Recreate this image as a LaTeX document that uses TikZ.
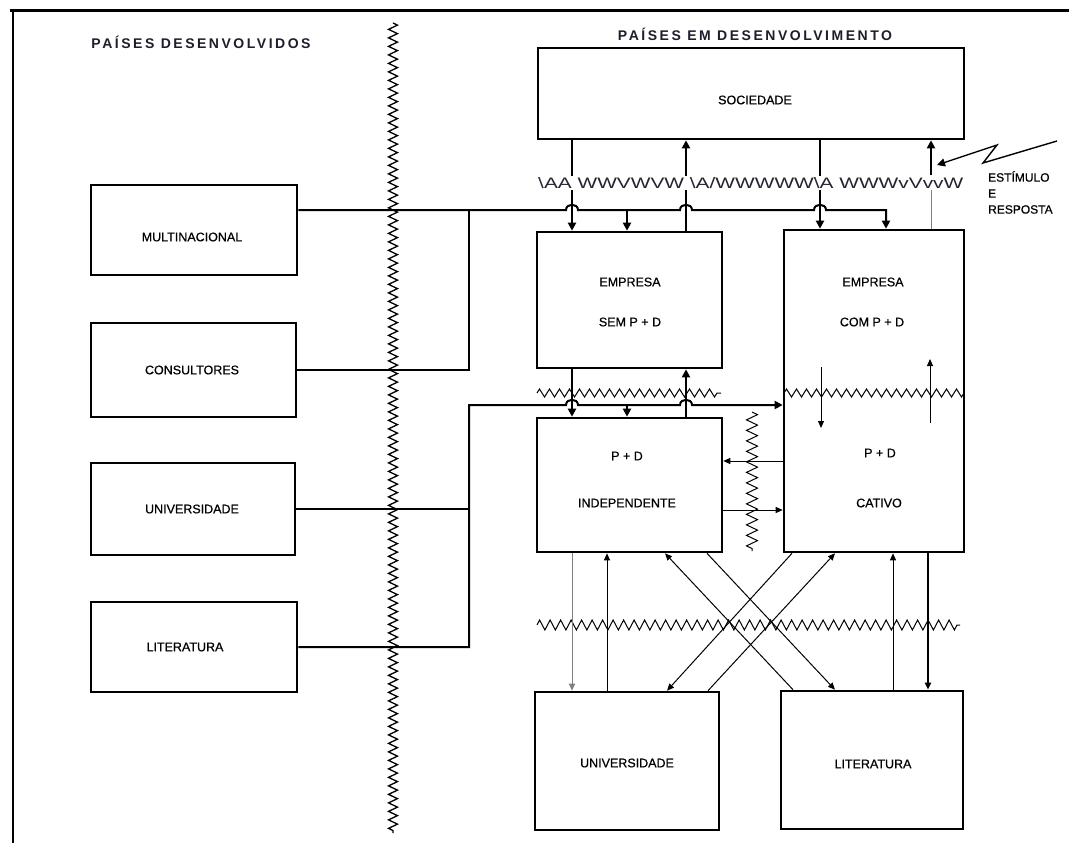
\documentclass[tikz,border=0pt]{standalone}
\usepackage{fontspec}
\setmainfont{Liberation Sans}
\newfontfamily\headfont[LetterSpace=18]{Liberation Sans Bold}
\newfontfamily\lblfont[FakeBold=0.6]{Liberation Sans}
\usetikzlibrary{decorations.pathmorphing,arrows.meta}
\begin{document}
\begin{tikzpicture}[x=1pt,y=-1pt,
  box/.style={draw,line width=2.6pt,inner sep=0pt},
  lbl/.style={inner sep=0pt,font=\lblfont\fontsize{12.5}{14}\selectfont},
  head/.style={inner sep=0pt,text={rgb,255:red,30;green,30;blue,45},font=\headfont\fontsize{14}{16}\selectfont},
  conn/.style={line width=2pt},
  thinconn/.style={line width=1pt},
  arr/.style={-{Triangle[width=8pt,length=8pt]}},
  sarr/.style={-{Triangle[width=6pt,length=7pt]}},
  zig/.style={decorate,decoration={zigzag,segment length=10pt,amplitude=4pt},line width=1pt},
  divider/.style={decorate,decoration={zigzag,segment length=8.5pt,amplitude=4.5pt},line width=1.3pt},
]
% page
\path[use as bounding box,fill=white] (0,0) rectangle (1069,843);
\draw[line width=3pt] (10,11) -- (1069,11);
\draw[line width=2pt] (12.5,10) -- (12.5,843);

% headings
\node[head] (hd1) at (201,42) {PAÍSES DESENVOLVIDOS};
\node[head] (hd2) at (755,34) {PAÍSES EM DESENVOLVIMENTO};

% boxes
\node[box,minimum width=426pt,minimum height=91pt] (soc) at (751,93.5) {};
\node[box,minimum width=206pt,minimum height=90pt] (mult) at (194,230) {};
\node[box,minimum width=205pt,minimum height=94pt] (cons) at (193.5,370) {};
\node[box,minimum width=204pt,minimum height=92pt] (univL) at (193,509) {};
\node[box,minimum width=206pt,minimum height=90pt] (litL) at (194,647) {};
\node[box,minimum width=185pt,minimum height=136pt] (emp) at (629.5,300) {};
\node[box,minimum width=185pt,minimum height=134pt] (pdi) at (629.5,485) {};
\node[box,minimum width=180pt,minimum height=322pt] (cat) at (874,391) {};
\node[box,minimum width=184pt,minimum height=138pt] (univB) at (627,761) {};
\node[box,minimum width=182pt,minimum height=138pt] (litB) at (872,760) {};

% labels
\node[lbl] (socT) at (755,100) {SOCIEDADE};
\node[lbl] (multT) at (192,237) {MULTINACIONAL};
\node[lbl] (consT) at (192,370) {CONSULTORES};
\node[lbl] (univLT) at (192,509) {UNIVERSIDADE};
\node[lbl] (litLT) at (185,647) {LITERATURA};
\node[lbl] (empT1) at (630,282) {EMPRESA};
\node[lbl] (empT2) at (630,322) {SEM P + D};
\node[lbl] (pdiT1) at (627,456) {P + D};
\node[lbl] (pdiT2) at (627,503) {INDEPENDENTE};
\node[lbl] (catT1) at (873,282) {EMPRESA};
\node[lbl] (catT2) at (872,322) {COM P + D};
\node[lbl] (catT3) at (880,453) {P + D};
\node[lbl] (catT4) at (879,503) {CATIVO};
\node[lbl] (univBT) at (627,763) {UNIVERSIDADE};
\node[lbl] (litBT) at (873,764) {LITERATURA};
\node[lbl,align=left,anchor=north west,font=\lblfont\fontsize{12}{16}\selectfont] (est) at (988,171) {ESTÍMULO\\E\\RESPOSTA};

% column and row references
\coordinate (xa) at (572,0);
\coordinate (xb) at (627,0);
\coordinate (xc) at (686,0);
\coordinate (xd) at (820,0);
\coordinate (xe) at (886,0);
\coordinate (xf) at (931,0);
\coordinate (xbus) at (469,0);
\coordinate (yb1) at (0,210);
\coordinate (yb2) at (0,405);
\coordinate (r1) at (0,461);
\coordinate (r2) at (0,510);
\coordinate (bx1) at (572,0);
\coordinate (bx2) at (607,0);
\coordinate (bx3) at (665,0);
\coordinate (bx4) at (707,0);
\coordinate (bx5) at (793,0);
\coordinate (bx6) at (835,0);
\coordinate (bx7) at (792,0);
\coordinate (bx8) at (667,0);
\coordinate (bx9) at (708,0);
\coordinate (bx10) at (893,0);
\coordinate (bx11) at (928,0);

% vertical links society <-> firms
\draw[conn,arr] (soc.south -| xa) -- (emp.north -| xa);
\draw[conn,arr] (emp.north -| xc) -- (soc.south -| xc);
\draw[conn,arr] (soc.south -| xd) -- (cat.north -| xd);

% boundary text line under the society box
\node[inner sep=0pt,inner ysep=1.5pt,fill=white,anchor=base west,text={rgb,255:red,35;green,35;blue,50}] (wt) at (538,188)
  {\resizebox{425pt}{11pt}{\textbackslash AA WWVWVW \textbackslash A/WWWWW\textbackslash A WWWvVvvW}};

\draw[thinconn,gray] (cat.north -| xf) -- (wt.south -| xf);
\draw[conn,arr] (wt.north -| xf) -- (soc.south -| xf);

% stimulus / response flash
\coordinate (l1) at (1057,141);
\coordinate (l2) at (983,163);
\coordinate (l3) at (997,145);
\coordinate (l4) at (937,165);
\draw[line width=1.4pt,arr] (l1) -- (l2) -- (l3) -- (l4);

% upper bus from the developed countries
\draw[conn,arr] (mult.east |- yb1) -- (566,210) .. controls (566,203) and (578,203) .. (578,210)
  -- (680,210) .. controls (680,203) and (692,203) .. (692,210)
  -- (814,210) .. controls (814,203) and (826,203) .. (826,210)
  -- (xe |- yb1) -- (cat.north -| xe);
\draw[conn,arr] (xb |- yb1) -- (emp.north -| xb);
\draw[conn] (cons.east) -- (xbus |- cons.east) -- (xbus |- yb1);

% lower bus
\draw[conn] (univL.east) -- (xbus |- univL.east);
\draw[conn,arr] (litL.east) -- (xbus |- litL.east) -- (xbus |- yb2)
  -- (566,405) .. controls (566,398) and (578,398) .. (578,405)
  -- (680,405) .. controls (680,398) and (692,398) .. (692,405)
  -- (cat.west |- yb2);

% firm without R&D <-> independent R&D
\draw[conn,arr] (emp.south -| xa) -- (pdi.north -| xa);
\draw[conn,arr] (xb |- yb2) -- (pdi.north -| xb);
\draw[conn,arr] (pdi.north -| xc) -- (emp.south -| xc);
\coordinate (z1a) at (537,393);
\coordinate (z1b) at (721,393);
\draw[zig] (z1a) -- (z1b);

% captive R&D
\coordinate (z2a) at (784,393);
\coordinate (z2b) at (964,393);
\draw[zig] (z2a) -- (z2b);
\coordinate (ca1) at (821,367);
\coordinate (ca2) at (821,428);
\coordinate (cb1) at (930,423);
\coordinate (cb2) at (930,359);
\draw[thinconn,sarr] (ca1) -- (ca2);
\draw[thinconn,sarr] (cb1) -- (cb2);

% independent <-> captive
\coordinate (z3a) at (752,412);
\coordinate (z3b) at (752,551);
\draw[zig,decoration={segment length=10.5pt,amplitude=5.5pt}] (z3a) -- (z3b);
\draw[thinconn,sarr] (cat.west |- r1) -- (pdi.east |- r1);
\draw[thinconn,sarr] (pdi.east |- r2) -- (cat.west |- r2);

% links to local university and literature
\coordinate (z4a) at (537,625);
\coordinate (z4b) at (960,625);
\draw[zig,decoration={segment length=10.5pt,amplitude=5pt}] (z4a) -- (z4b);
\draw[thinconn,gray,sarr] (pdi.south -| bx1) -- (univB.north -| bx1);
\draw[thinconn,sarr] (univB.north -| bx2) -- (pdi.south -| bx2);
\draw[thinconn,sarr] (litB.north -| bx5) -- (pdi.south -| bx3);
\draw[thinconn,sarr] (pdi.south -| bx4) -- (litB.north -| bx6);
\draw[thinconn,sarr] (cat.south -| bx7) -- (univB.north -| bx8);
\draw[thinconn,sarr] (univB.north -| bx9) -- (cat.south -| bx6);
\draw[thinconn,sarr] (litB.north -| bx10) -- (cat.south -| bx10);
\draw[line width=1.8pt,sarr] (cat.south -| bx11) -- (litB.north -| bx11);

% border between developed and developing countries
\coordinate (dv1) at (393,23);
\coordinate (dv2) at (393,833);
\draw[divider] (dv1) -- (dv2);
\end{tikzpicture}
\end{document}
